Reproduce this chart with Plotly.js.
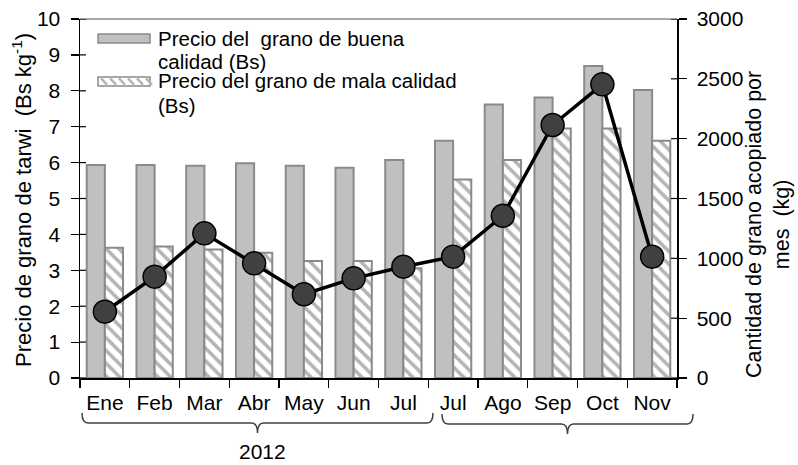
<!DOCTYPE html>
<html>
<head>
<meta charset="utf-8">
<script src="https://cdn.plot.ly/plotly-3.0.1.min.js"></script>
<style>html,body{margin:0;padding:0;background:#fff}#chart{width:798px;height:465px}</style>
</head>
<body>
<div id="chart"></div>
<script>
// ---- data ----
const months = ['Ene','Feb','Mar','Abr','May','Jun','Jul','Jul','Ago','Sep','Oct','Nov'];
const goodPrice = [5.93,5.93,5.91,5.98,5.91,5.86,6.07,6.61,7.62,7.81,8.69,8.02];
const badPrice  = [3.63,3.66,3.58,3.49,3.26,3.26,3.06,5.53,6.07,6.95,6.95,6.61];
const quantity  = [554,847,1209,958,700,833,930,1014,1356,2114,2454,1014];
const leftTicks = [0,1,2,3,4,5,6,7,8,9,10];
const rightTicks = [0,500,1000,1500,2000,2500,3000];
const goodName = 'Precio del  grano de buena calidad (Bs)';
const badName = 'Precio del grano de mala calidad (Bs)';
const yearLabel = '2012';

const xIdx = months.map((_, i) => i);
const FONT = 'Liberation Sans, Arial, sans-serif';

// plot area in pixels
const L = 80, R = 677, T = 19, B = 378;
const W = 798, H = 465;
const px = x => ((x - L) / (R - L)).toFixed(4);
const py = y => ((B - y) / (B - T)).toFixed(4);
const P = (x, y) => px(x) + ',' + py(y);

function brace(x0, x1, yEnd, yLine, yTip) {
  const xc = (x0 + x1) / 2;
  const r = 6;
  return 'M' + P(x0, yEnd) + ' Q' + P(x0, yLine) + ' ' + P(x0 + r, yLine) +
         ' L' + P(xc - r, yLine) + ' Q' + P(xc, yLine) + ' ' + P(xc, yTip) +
         ' Q' + P(xc, yLine) + ' ' + P(xc + r, yLine) +
         ' L' + P(x1 - r, yLine) + ' Q' + P(x1, yLine) + ' ' + P(x1, yEnd);
}

const traces = [
  {
    type: 'bar', x: xIdx, y: goodPrice, name: goodName, yaxis: 'y',
    marker: {color: '#c0c0c0', line: {color: '#8a8a8a', width: 2}},
    showlegend: false, hoverinfo: 'skip'
  },
  {
    type: 'bar', x: xIdx, y: badPrice, name: badName, yaxis: 'y',
    marker: {color: '#ffffff', line: {color: '#8a8a8a', width: 2},
             pattern: {shape: '\\', fgcolor: '#b4b4b4', bgcolor: '#ffffff', size: 9, solidity: 0.4}},
    showlegend: false, hoverinfo: 'skip'
  },
  {
    type: 'scatter', mode: 'lines+markers', x: xIdx, y: quantity, yaxis: 'y2',
    line: {color: '#000000', width: 3.5},
    marker: {size: 23, color: '#404040', line: {color: '#000000', width: 1.5}},
    showlegend: false, hoverinfo: 'skip'
  }
];

const shapes = [
  // top border (gray)
  {type: 'line', xref: 'paper', yref: 'paper', x0: 0, x1: 1, y0: 1, y1: 1, line: {color: '#8a8a8a', width: 1.5}},
  // legend symbols
  {type: 'rect', xref: 'paper', yref: 'paper', x0: px(98), x1: px(150), y0: py(34), y1: py(43),
   fillcolor: '#c0c0c0', line: {color: '#8a8a8a', width: 1.5}},
  {type: 'rect', xref: 'paper', yref: 'paper', x0: px(98), x1: px(150), y0: py(77), y1: py(86),
   fillcolor: '#ffffff', line: {color: '#8a8a8a', width: 1.5}},
  // braces
  {type: 'path', xref: 'paper', yref: 'paper', path: brace(82, 433, 413, 423, 433), line: {color: '#404040', width: 1.5}},
  {type: 'path', xref: 'paper', yref: 'paper', path: brace(442, 693, 414, 424, 434), line: {color: '#404040', width: 1.5}}
];
// stripes inside the second legend symbol
for (let k = 0; k < 6; k++) {
  const xs = 101 + k * 9;
  shapes.push({type: 'line', xref: 'paper', yref: 'paper', x0: px(xs), y0: py(78.5), x1: px(xs + 6), y1: py(84.5),
               line: {color: '#b4b4b4', width: 2.5}});
}
// inner halves of the crossing ticks on both value axes
leftTicks.forEach(v => shapes.push({type: 'line', xref: 'paper', yref: 'y', x0: 0, x1: px(86), y0: v, y1: v,
  line: {color: '#000', width: 1.2}}));
rightTicks.forEach(v => shapes.push({type: 'line', xref: 'paper', yref: 'y2', x0: px(671), x1: 1, y0: v, y1: v,
  line: {color: '#000', width: 1.2}}));

const legFont = {family: FONT, size: 20.5, color: '#000'};
const annotations = [
  {xref: 'paper', yref: 'paper', x: px(156), y: py(39), xanchor: 'left', yanchor: 'middle', showarrow: false,
   text: 'Precio del\u00a0 grano de buena', font: legFont},
  {xref: 'paper', yref: 'paper', x: px(156), y: py(61), xanchor: 'left', yanchor: 'middle', showarrow: false,
   text: 'calidad (Bs)', font: legFont},
  {xref: 'paper', yref: 'paper', x: px(156), y: py(81), xanchor: 'left', yanchor: 'middle', showarrow: false,
   text: 'Precio del grano de mala calidad', font: legFont},
  {xref: 'paper', yref: 'paper', x: px(156), y: py(105), xanchor: 'left', yanchor: 'middle', showarrow: false,
   text: '(Bs)', font: legFont},
  // axis titles
  {xref: 'paper', yref: 'paper', x: px(22), y: py(200), xanchor: 'center', yanchor: 'middle', showarrow: false,
   textangle: -90, text: 'Precio de grano de tarwi\u00a0 (Bs kg<sup>-1</sup>)', font: {family: FONT, size: 22, color: '#000'}},
  {xref: 'paper', yref: 'paper', x: px(768), y: py(224), xanchor: 'center', yanchor: 'middle', showarrow: false,
   textangle: -90, text: 'Cantidad de grano acopiado por<br>mes\u00a0 (kg)', font: {family: FONT, size: 21.5, color: '#000'}},
  // year
  {xref: 'paper', yref: 'paper', x: px(262), y: py(452), xanchor: 'center', yanchor: 'middle', showarrow: false,
   text: yearLabel, font: {family: FONT, size: 21, color: '#000'}}
];

const tickFont = {family: FONT, size: 21, color: '#000'};
const layout = {
  width: W, height: H,
  margin: {l: L, r: W - R, t: T, b: H - B, pad: 0},
  paper_bgcolor: '#ffffff', plot_bgcolor: '#ffffff',
  barmode: 'group', bargap: 0.27, bargroupgap: 0,
  showlegend: false,
  font: {family: FONT, color: '#000'},
  xaxis: {
    range: [-0.5, 11.5], tickmode: 'array', tickvals: xIdx, ticktext: months,
    ticks: 'outside', ticklen: 5, tickcolor: 'rgba(0,0,0,0)',
    minor: {ticks: 'outside', tick0: -0.5, dtick: 1, ticklen: 8, tickcolor: '#000', tickwidth: 1.2},
    showline: true, linecolor: '#000', linewidth: 1.5, showgrid: false, zeroline: false,
    tickfont: tickFont, fixedrange: true
  },
  yaxis: {
    range: [0, 10], tickmode: 'array', tickvals: leftTicks, ticks: 'outside', ticklen: 8, tickcolor: '#000', tickwidth: 1.2,
    showline: true, linecolor: '#000', linewidth: 1.5, showgrid: false, zeroline: false,
    tickfont: tickFont, ticklabelstandoff: 6
  },
  yaxis2: {
    range: [0, 3000], tickmode: 'array', tickvals: rightTicks, overlaying: 'y', side: 'right',
    ticks: 'outside', ticklen: 8, tickcolor: '#000', tickwidth: 1.2,
    showline: true, linecolor: '#000', linewidth: 1.5, showgrid: false, zeroline: false,
    tickfont: tickFont, ticklabelstandoff: 6
  },
  shapes: shapes,
  annotations: annotations
};

Plotly.newPlot('chart', traces, layout, {displayModeBar: false, staticPlot: true});
</script>
</body>
</html>
